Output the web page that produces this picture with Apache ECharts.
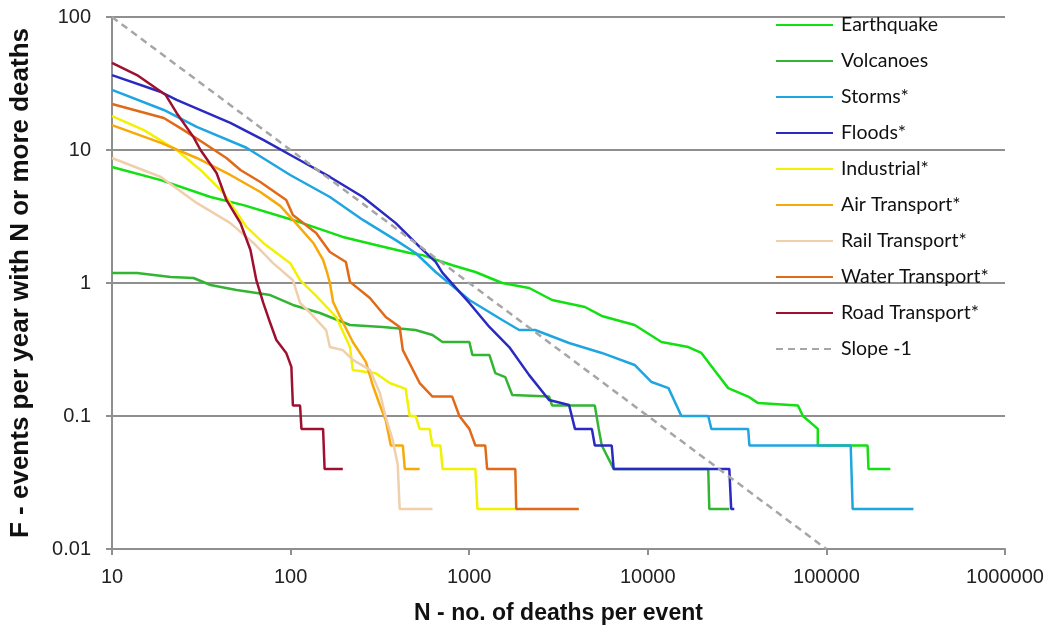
<!DOCTYPE html>
<html>
<head>
<meta charset="utf-8">
<script src="https://cdn.jsdelivr.net/npm/echarts@6/dist/echarts.min.js"></script>
<style>
html,body{margin:0;padding:0;background:#fff;}
#chart{width:1057px;height:634px;}
</style>
</head>
<body>
<div id="chart"></div>
<script>
// Tick labels
const xTickLabels = ['10','100','1000','10000','100000','1000000'];
const yTickLabels = ['0.01','0.1','1','10','100'];

// Series names
const seriesNames = ['Earthquake','Volcanoes','Storms*','Floods*','Industrial*','Air Transport*','Rail Transport*','Water Transport*','Road Transport*','Slope -1'];

// [N deaths, F events per year]
const earthquake = [[10,7.45],[18.8,5.94],[35.6,4.43],[54.5,3.85],[103,2.98],[196,2.22],[300,1.93],[464,1.68],[548,1.62],[806,1.36],[1083,1.21],[1531,1.0],[2167,0.917],[2911,0.745],[4446,0.66],[5525,0.565],[8440,0.483],[11930,0.36],[16870,0.33],[19950,0.298],[23560,0.222],[28200,0.162],[36470,0.14],[41480,0.125],[69300,0.12],[73900,0.1],[89500,0.08],[89500,0.06],[170000,0.06],[172000,0.04],[228000,0.04]];
const volcanoes = [[10,1.19],[13.8,1.19],[21.3,1.11],[28.6,1.09],[35.6,0.966],[49.8,0.886],[76.9,0.812],[103,0.684],[146,0.595],[215,0.483],[328,0.467],[501,0.443],[623,0.406],[709,0.36],[1002,0.36],[1042,0.288],[1297,0.288],[1400,0.21],[1592,0.196],[1742,0.144],[2800,0.14],[2910,0.12],[5050,0.12],[5310,0.08],[5525,0.06],[6440,0.04],[21800,0.04],[22100,0.02],[28600,0.02]];
const storms = [[10,28.3],[19.5,20.0],[29.8,14.9],[56.6,10.4],[99.5,6.49],[166,4.43],[254,2.98],[388,2.1],[501,1.68],[649,1.21],[1002,0.745],[1531,0.527],[1905,0.443],[2340,0.443],[3623,0.354],[5525,0.298],[8440,0.242],[10500,0.18],[13060,0.162],[15420,0.1],[21800,0.1],[22700,0.08],[36470,0.08],[37060,0.06],[136800,0.06],[140300,0.02],[307000,0.02]];
const floods = [[10,36.6],[18.8,27.3],[23,23.8],[46,16],[70.3,11.9],[107,8.71],[166,6.27],[254,4.43],[388,2.82],[528,1.87],[649,1.44],[709,1.19],[1002,0.708],[1297,0.467],[1675,0.33],[2167,0.203],[2800,0.132],[3623,0.121],[3910,0.08],[4862,0.08],[5050,0.06],[6280,0.06],[6440,0.04],[28600,0.04],[29300,0.02],[30500,0.02]];
const industrial = [[10,18],[15.1,14.1],[23,10],[31.3,7.08],[42.1,4.75],[56.6,2.64],[70.3,2.0],[99.5,1.41],[113,1.05],[139,0.8],[180,0.555],[215,0.33],[223,0.222],[300,0.21],[359,0.177],[441,0.16],[464,0.1],[501,0.1],[528,0.08],[600,0.08],[623,0.06],[690,0.06],[709,0.04],[1083,0.04],[1112,0.02],[1812,0.02]];
const airTransport = [[10,15.4],[18.8,11.3],[29.8,8.71],[46,6.49],[67.7,4.83],[87.5,3.8],[107,2.82],[134,2.0],[152,1.49],[160,1.2],[166,1.0],[173,0.72],[189,0.56],[223,0.36],[264,0.255],[288,0.171],[316,0.121],[341,0.093],[364,0.06],[425,0.06],[436,0.04],[528,0.04]];
const railTransport = [[10,8.71],[18.8,6.27],[29.8,4.0],[46,2.82],[61.9,2.0],[79.8,1.41],[103,1.05],[113,0.708],[129,0.595],[158,0.443],[166,0.33],[196,0.313],[223,0.264],[278,0.222],[316,0.149],[341,0.098],[373,0.066],[398,0.043],[408,0.02],[623,0.02]];
const waterTransport = [[10,22.2],[19.5,17.4],[25.2,14.1],[32.6,11.3],[43.7,8.71],[52.4,7.08],[67.7,5.75],[94.5,4.21],[103,3.24],[139,2.38],[166,1.71],[204,1.44],[215,1.02],[278,0.771],[341,0.555],[408,0.467],[425,0.313],[528,0.177],[623,0.14],[803,0.14],[881,0.1],[1002,0.08],[1083,0.06],[1230,0.06],[1260,0.04],[1812,0.04],[1834,0.02],[4110,0.02]];
const roadTransport = [[10,45.1],[13.8,36.6],[20,25.9],[23,19],[28.6,12.5],[31.3,10],[38.5,6.71],[43.7,4.21],[52.4,2.82],[59.6,1.77],[64.3,1.05],[70.3,0.708],[76.9,0.5],[83.2,0.373],[94.5,0.298],[101,0.234],[103,0.12],[113,0.12],[115,0.08],[152,0.08],[155,0.04],[196,0.04]];
const slopeLine = [[10,100],[100000,0.01]];

const seriesData = [earthquake, volcanoes, storms, floods, industrial, airTransport, railTransport, waterTransport, roadTransport, slopeLine];
const seriesColors = ['#12e012','#33b533','#1fa5e0','#2a2ac2','#f2f200','#f8a90a','#f0cfac','#e06a18','#9e1030','#a6a6a6'];

const chart = echarts.init(document.getElementById('chart'), null, {renderer:'canvas'});
const gridColor = '#8f8f8f';
const tickFont = "'Liberation Sans', Arial, sans-serif";

const series = seriesData.map((d, i) => ({
  name: seriesNames[i],
  type: 'line',
  data: d,
  symbol: 'none',
  showSymbol: false,
  smooth: false,
  z: 2 + i,
  lineStyle: {
    color: seriesColors[i],
    width: 2.5,
    type: i === seriesData.length - 1 ? [7, 5] : 'solid'
  },
  itemStyle: {color: seriesColors[i]},
  emphasis: {disabled: true}
}));

chart.setOption({
  animation: false,
  backgroundColor: '#fff',
  grid: {left: 108, right: 52, top: 17, bottom: 85, containLabel: false},
  legend: {
    orient: 'vertical',
    left: 775,
    top: 15,
    padding: 0,
    itemWidth: 57,
    itemHeight: 20,
    itemGap: 16,
    data: seriesNames,
    itemStyle: {opacity: 0},
    textStyle: {fontFamily: 'Lato, sans-serif', fontSize: 19.5, color: '#111', lineHeight: 20, padding: [0,0,0,3]}
  },
  xAxis: {
    type: 'log',
    logBase: 10,
    min: 10,
    max: 1000000,
    name: 'N - no. of deaths per event',
    nameLocation: 'middle',
    nameGap: 53,
    nameTextStyle: {fontFamily: tickFont, fontWeight: 'bold', fontSize: 23, color: '#111'},
    axisLine: {show: true, lineStyle: {color: gridColor, width: 2}},
    axisTick: {show: true, length: 6, lineStyle: {color: gridColor, width: 2}},
    splitLine: {show: false},
    minorTick: {show: false},
    axisLabel: {
      fontFamily: tickFont, fontSize: 20, color: '#222', margin: 18,
      formatter: v => xTickLabels[Math.round(Math.log10(v)) - 1]
    }
  },
  yAxis: {
    type: 'log',
    logBase: 10,
    min: 0.01,
    max: 100,
    name: 'F - events per year with N or more deaths',
    nameLocation: 'middle',
    nameGap: 78,
    nameTextStyle: {fontFamily: tickFont, fontWeight: 'bold', fontSize: 26, color: '#111'},
    axisLine: {show: true, lineStyle: {color: gridColor, width: 2}},
    axisTick: {show: true, length: 6, lineStyle: {color: gridColor, width: 2}},
    splitLine: {show: true, lineStyle: {color: gridColor, width: 2}},
    minorTick: {show: false},
    axisLabel: {
      fontFamily: tickFont, fontSize: 20, color: '#222', margin: 21,
      formatter: v => yTickLabels[Math.round(Math.log10(v)) + 2]
    }
  },
  series: series
});
</script>
</body>
</html>
